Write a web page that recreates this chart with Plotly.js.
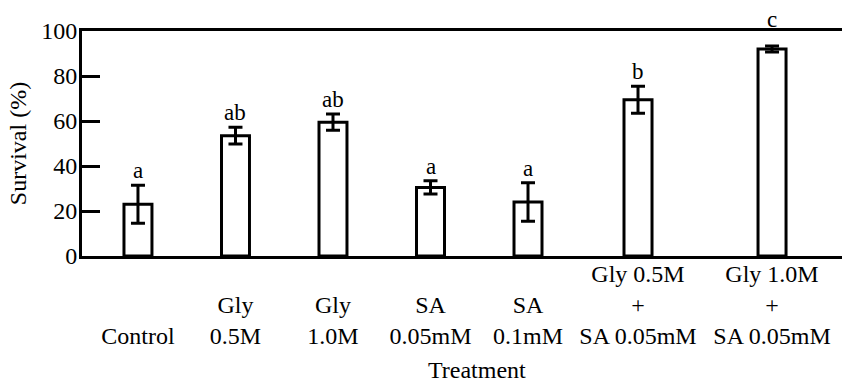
<!DOCTYPE html>
<html><head><meta charset="utf-8">
<script src="https://cdn.plot.ly/plotly-3.0.1.min.js"></script>
<style>html,body{margin:0;padding:0;background:#fff}#chart{width:842px;height:382px}</style>
</head><body><div id="chart"></div>
<script>
const categories = ["Control", "Gly 0.5M", "Gly 1.0M", "SA 0.05mM", "SA 0.1mM", "Gly 0.5M + SA 0.05mM", "Gly 1.0M + SA 0.05mM"];
const tickLabels = ["<br><br>Control", "<br>Gly<br>0.5M", "<br>Gly<br>1.0M", "<br>SA<br>0.05mM", "<br>SA<br>0.1mM", "Gly 0.5M<br>+<br>SA 0.05mM", "Gly 1.0M<br>+<br>SA 0.05mM"];
const survival = [23, 53.5, 59.5, 30.5, 24, 69.5, 92];
const errors = [8.4, 3.7, 3.6, 2.9, 8.6, 6, 1.3];
const letters = ["a", "ab", "ab", "a", "a", "b", "c"];
const yTicks = [0, 20, 40, 60, 80, 100];

const FONT = "Liberation Serif";
const Y_MAX = 100;
// single treatments on the first x-axis panel, combined treatments on the second (wider spacing)
const SPLIT = 5;

function groupTrace(from, to, xa, w) {
  return {
    type: "bar",
    x: categories.slice(from, to),
    y: survival.slice(from, to),
    xaxis: xa, yaxis: "y",
    width: w,
    marker: {color: "#ffffff", line: {color: "#000000", width: 3}},
    error_y: {type: "data", array: errors.slice(from, to), visible: true, color: "#000000", thickness: 3, width: 7},
    hoverinfo: "skip"
  };
}

const traces = [
  groupTrace(0, SPLIT, "x", 0.287),
  groupTrace(SPLIT, categories.length, "x2", 0.209)
];

const annotations = categories.map((c, i) => {
  const top = survival[i] + errors[i];
  return {
    x: c,
    y: top > Y_MAX - 10 ? Y_MAX - 1.5 : top,
    xref: i < SPLIT ? "x" : "x2", yref: "y",
    yanchor: "bottom",
    text: letters[i],
    showarrow: false,
    font: {family: FONT, size: 23, color: "#000"}
  };
});
annotations.push({
  text: "Treatment",
  xref: "paper", yref: "paper",
  x: 0.52, y: -0.508,
  xanchor: "center", yanchor: "middle",
  showarrow: false,
  font: {family: FONT, size: 24, color: "#000"}
});

function xAxis(from, to, domain, range) {
  return {
    type: "category",
    domain: domain,
    range: range,
    anchor: "y",
    tickvals: categories.slice(from, to),
    ticktext: tickLabels.slice(from, to),
    tickangle: 0,
    ticks: "",
    ticklabelstandoff: -6,
    automargin: false,
    showline: true, linewidth: 3, linecolor: "#000", mirror: true,
    showgrid: false, zeroline: false,
    tickfont: {family: FONT, size: 24, color: "#000"}
  };
}

const layout = {
  width: 842, height: 382,
  margin: {l: 82, r: 0, t: 31, b: 125.5},
  paper_bgcolor: "#ffffff", plot_bgcolor: "#ffffff",
  font: {family: FONT, color: "#000000"},
  showlegend: false,
  bargap: 0,
  xaxis: xAxis(0, SPLIT, [0, 0.651], [-0.574, 4.5]),
  xaxis2: xAxis(SPLIT, categories.length, [0.651, 1], [-0.457, 1.522]),
  yaxis: {
    range: [0, Y_MAX],
    tickvals: yTicks,
    ticks: "inside", ticklen: 18, tickwidth: 3, tickcolor: "#000",
    ticklabelstandoff: -3,
    automargin: false,
    showline: true, linewidth: 3, linecolor: "#000",
    showgrid: false, zeroline: false,
    tickfont: {family: FONT, size: 24, color: "#000"},
    title: {text: "Survival (%)", font: {family: FONT, size: 24, color: "#000"}, standoff: 8}
  },
  annotations: annotations
};

Plotly.newPlot("chart", traces, layout, {staticPlot: true, displayModeBar: false});
</script>
</body></html>
